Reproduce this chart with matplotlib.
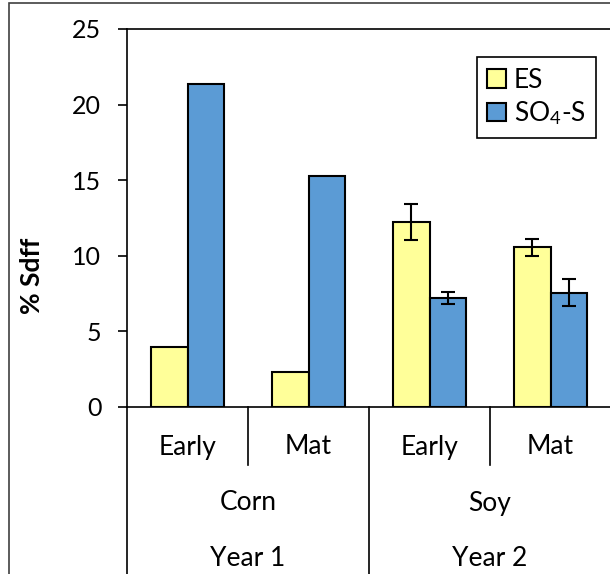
import numpy as np
import matplotlib
matplotlib.use("Agg")
import matplotlib.pyplot as plt
from matplotlib.patches import Rectangle

plt.rcParams['font.family'] = ['Lato', 'DejaVu Sans']
plt.rcParams['mathtext.fontset'] = 'custom'
plt.rcParams['mathtext.rm'] = 'Lato'
plt.rcParams['mathtext.it'] = 'Lato:italic'

# data
stages = ['Early', 'Mat', 'Early', 'Mat']
crops = ['Corn', 'Soy']
years = ['Year 1', 'Year 2']
es = [3.95, 2.3, 12.25, 10.55]
so4 = [21.35, 15.25, 7.2, 7.55]
es_err = [0, 0, 1.2, 0.55]
so4_err = [0, 0, 0.38, 0.9]

W, H = 610, 574
fig = plt.figure(figsize=(W / 100, H / 100), dpi=100)
# axes box in pixels: left 127, right 611, top 29, bottom 407
ax = fig.add_axes([127 / W, (H - 407) / H, 484 / W, 378 / H])

x = np.arange(len(stages))
bw = 0.3
ax.bar(x - bw / 2, es, bw, color='#FFFF99', edgecolor='black', linewidth=1.5, label='ES', zorder=2)
ax.bar(x + bw / 2, so4, bw, color='#5B9BD5', edgecolor='black', linewidth=1.5, label='SO$_4$-S', zorder=2)

# error bars only where reported
for off, vals, errs in [(-bw / 2, es, es_err), (bw / 2, so4, so4_err)]:
    idx = [i for i in range(len(errs)) if errs[i] > 0]
    ax.errorbar(x[idx] + off, [vals[i] for i in idx], yerr=[errs[i] for i in idx],
                fmt='none', ecolor='black', elinewidth=1.5, capsize=5, capthick=1.5, zorder=3)

ax.set_xlim(-0.5, 3.5)
ax.set_ylim(0, 25)
ax.set_yticks([0, 5, 10, 15, 20, 25])
ax.tick_params(axis='y', direction='out', length=6.5, width=1.2, labelsize=18, pad=12)
ax.set_xticks([])
for s in ['left', 'top', 'bottom']:
    ax.spines[s].set_linewidth(1.2)
ax.spines['right'].set_visible(False)

# axis title sits lower than the plot centre (centred on plot + category area)
fig.text(32 / W, (H - 276) / H, '% Sdff', rotation=90, ha='center', va='center',
         fontsize=19, fontweight='bold')

# multi-level category axis
ah = 378.0
def fy(py):
    return -(py - 407) / ah

tr = ax.get_xaxis_transform()
for xs, ybot in [(0.5, 465), (2.5, 465), (1.5, 600), (-0.5, 600)]:
    ax.plot([xs, xs], [0, fy(ybot)], color='black', lw=1.2, transform=tr, clip_on=False)
for i, s in enumerate(stages):
    ax.text(x[i], fy(447), s, transform=tr, ha='center', va='center', fontsize=19)
for j, c in enumerate(crops):
    ax.text(2 * j + 0.5, fy(503), c, transform=tr, ha='center', va='center', fontsize=19)
for j, yr in enumerate(years):
    ax.text(2 * j + 0.5, fy(558), yr, transform=tr, ha='center', va='center', fontsize=19)

leg = ax.legend(loc='upper right', bbox_to_anchor=(0.969, 0.926), borderaxespad=0,
                fontsize=19, fancybox=False, edgecolor='black', framealpha=1,
                handlelength=0.7, handleheight=0.7, handletextpad=0.3,
                labelspacing=0.25, borderpad=0.4)
leg.get_frame().set_linewidth(1.2)

# outer chart border (cropped on right/bottom)
fig.add_artist(Rectangle((9 / W, -0.05), 1.1, (H - 3) / H + 0.05, transform=fig.transFigure,
                         fill=False, edgecolor='#404040', linewidth=1.2))

fig.savefig('out.png', dpi=100)
